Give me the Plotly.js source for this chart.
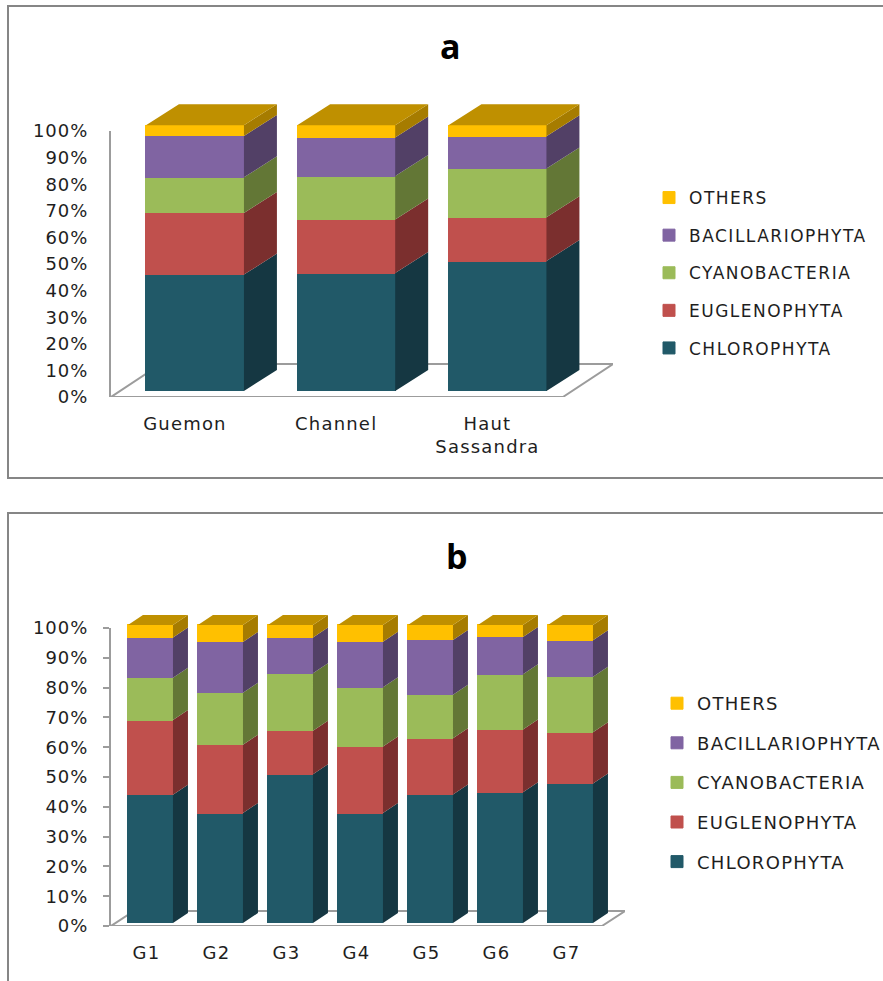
<!DOCTYPE html>
<html>
<head>
<meta charset="utf-8">
<script src="https://cdn.plot.ly/plotly-3.0.1.min.js"></script>
<style>
  html, body { margin: 0; padding: 0; background: #fff; overflow: hidden; }
  .legendtext { letter-spacing: 1.5px; }
  .legend2text { letter-spacing: 1.3px; }
  .xtick text, .x2tick text { letter-spacing: 1.2px; }
  .ytick text, .y3tick text { letter-spacing: 1px; }
</style>
</head>
<body>
<div id="chart" style="width:883px;height:981px"></div>
<script>
// Phytoplankton composition, percent of each phylum per site (a) and per group (b)
const seriesNames = ['CHLOROPHYTA', 'EUGLENOPHYTA', 'CYANOBACTERIA', 'BACILLARIOPHYTA', 'OTHERS'];

const sitesA = ['Guemon', 'Channel', 'Haut<br>Sassandra'];
const chlorophytaA = [43.8, 44.4, 48.9];
const euglenophytaA = [23.2, 20.1, 16.5];
const cyanobacteriaA = [13.4, 16.4, 18.3];
const bacillariophytaA = [15.6, 14.5, 12.2];
const othersA = [4.0, 4.6, 4.1];

const groupsB = ['G1', 'G2', 'G3', 'G4', 'G5', 'G6', 'G7'];
const chlorophytaB = [43.0, 36.9, 49.9, 36.9, 43.1, 43.9, 46.8];
const euglenophytaB = [25.1, 22.9, 14.6, 22.3, 18.9, 21.0, 17.2];
const cyanobacteriaB = [14.2, 17.5, 19.3, 19.9, 14.6, 18.6, 18.6];
const bacillariophytaB = [13.5, 17.0, 12.0, 15.3, 18.4, 12.5, 12.3];
const othersB = [4.2, 5.7, 4.2, 5.6, 5.0, 4.0, 5.1];

const pctTicks = [0, 10, 20, 30, 40, 50, 60, 70, 80, 90, 100];
const pctLabels = ['0%', '10%', '20%', '30%', '40%', '50%', '60%', '70%', '80%', '90%', '100%'];

const frontColors = ['#215968', '#C0504D', '#9BBB59', '#8064A2', '#FFC000'];
const sideColors = ['#153742', '#7B2F2E', '#637736', '#524066', '#A67C00'];
const topColor = '#BF9000';
const wallColor = '#9C9C9C';
const textColor = '#1E1E1E';
const fontFamily = '"DejaVu Sans", sans-serif';

const W = 883, H = 981;
const fx = px => px / W;
const fy = py => 1 - py / H;

const traces = [];

// One panel: a floor drawn behind the bars, front faces as stacked bars,
// side and top faces as filled polygons offset by the extrusion depth.
function addPanel(p) {
  traces.push({
    type: 'scatter', mode: 'lines', xaxis: p.xName, yaxis: p.wallName,
    x: [p.xRange[0], p.floor.frontRight, p.xRange[1], p.floor.backLeft, p.xRange[0]],
    y: [0, 0, p.floor.depth, p.floor.depth, 0],
    line: { color: wallColor, width: 2 }, cliponaxis: false,
    showlegend: false, hoverinfo: 'skip'
  });

  p.series.forEach((vals, s) => {
    traces.push({
      type: 'bar', name: seriesNames[s], x: p.cats.map((_, i) => i), y: vals,
      xaxis: p.xName, yaxis: p.barName, width: p.barWidth,
      marker: { color: frontColors[s], line: { color: frontColors[s], width: 1 } },
      legend: p.legendName, legendgroup: p.legendName + s,
      legendrank: seriesNames.length - s, showlegend: true
    });
  });

  const base = p.cats.map(() => 0);
  p.series.forEach((vals, s) => {
    const sx = [], sy = [];
    vals.forEach((v, i) => {
      const r = i + p.barWidth / 2, lo = base[i], hi = lo + v;
      sx.push(r, r + p.dx, r + p.dx, r, r, null);
      sy.push(lo, lo + p.dy, hi + p.dy, hi, lo, null);
      base[i] = hi;
    });
    traces.push({
      type: 'scatter', mode: 'lines', fill: 'toself', fillcolor: sideColors[s],
      x: sx, y: sy, xaxis: p.xName, yaxis: p.barName,
      line: { width: 0, color: sideColors[s] }, showlegend: false, hoverinfo: 'skip'
    });
  });

  const tx = [], ty = [];
  base.forEach((t, i) => {
    const l = i - p.barWidth / 2, r = i + p.barWidth / 2;
    tx.push(l, r, r + p.dx, l + p.dx, l, null);
    ty.push(t, t, t + p.dy, t + p.dy, t, null);
  });
  traces.push({
    type: 'scatter', mode: 'lines', fill: 'toself', fillcolor: topColor,
    x: tx, y: ty, xaxis: p.xName, yaxis: p.barName,
    line: { width: 0, color: topColor }, showlegend: false, hoverinfo: 'skip'
  });
}

addPanel({
  cats: sitesA, xName: 'x', wallName: 'y', barName: 'y2', legendName: 'legend',
  series: [chlorophytaA, euglenophytaA, cyanobacteriaA, bacillariophytaA, othersA],
  barWidth: 0.648, dx: 0.218, dy: 7.9,
  xRange: [-0.555, 2.764],
  floor: { frontRight: 2.433, backLeft: -0.225, depth: 12.4 }
});
addPanel({
  cats: groupsB, xName: 'x2', wallName: 'y3', barName: 'y4', legendName: 'legend2',
  series: [chlorophytaB, euglenophytaB, cyanobacteriaB, bacillariophytaB, othersB],
  barWidth: 0.643, dx: 0.214, dy: 3.36,
  xRange: [-0.564, 6.779],
  floor: { frontRight: 6.45, backLeft: -0.236, depth: 5.03 }
});

const tickFont = { family: fontFamily, size: 18, color: textColor };
const catFont = { family: fontFamily, size: 18, color: textColor };

const layout = {
  width: W, height: H,
  margin: { l: 0, r: 0, t: 0, b: 0, autoexpand: false },
  paper_bgcolor: '#fff', plot_bgcolor: 'rgba(0,0,0,0)',
  barmode: 'stack', bargap: 0,
  hovermode: false,

  xaxis: {
    domain: [fx(111), fx(613)], range: [-0.555, 2.764], anchor: 'y',
    tickmode: 'array', tickvals: sitesA.map((_, i) => i), ticktext: sitesA,
    ticks: '', showgrid: false, zeroline: false, showline: false,
    tickfont: catFont, ticklabelshift: -10, ticklabelstandoff: 14
  },
  yaxis: {
    domain: [fy(397), fy(131)], range: [0, 100], anchor: 'x',
    tickmode: 'array', tickvals: pctTicks, ticktext: pctLabels,
    ticks: '', showgrid: false, zeroline: false,
    showline: true, linecolor: wallColor, linewidth: 2,
    tickfont: tickFont, ticklabelstandoff: 17
  },
  yaxis2: {
    domain: [fy(391), fy(100)], range: [0, 109.5], anchor: 'x',
    visible: false, showgrid: false, zeroline: false
  },

  xaxis2: {
    domain: [fx(111), fx(625)], range: [-0.564, 6.779], anchor: 'y3',
    tickmode: 'array', tickvals: groupsB.map((_, i) => i), ticktext: groupsB,
    ticks: '', showgrid: false, zeroline: false, showline: false,
    tickfont: catFont, ticklabelshift: -4, ticklabelstandoff: 14
  },
  yaxis3: {
    domain: [fy(926), fy(628)], range: [0, 100], anchor: 'x2',
    tickmode: 'array', tickvals: pctTicks, ticktext: pctLabels,
    ticks: 'outside', ticklen: 6, tickwidth: 2, tickcolor: wallColor,
    showgrid: false, zeroline: false,
    showline: true, linecolor: wallColor, linewidth: 2,
    tickfont: tickFont, ticklabelstandoff: 11
  },
  yaxis4: {
    domain: [fy(923), fy(610)], range: [0, 105.03], anchor: 'x2',
    visible: false, showgrid: false, zeroline: false
  },

  legend: {
    x: fx(649), y: fy(180), xanchor: 'left', yanchor: 'top',
    bgcolor: 'rgba(0,0,0,0)',
    font: { family: fontFamily, size: 17, color: textColor },
    traceorder: 'grouped', tracegroupgap: 12.5
  },
  legend2: {
    x: fx(657), y: fy(685), xanchor: 'left', yanchor: 'top',
    bgcolor: 'rgba(0,0,0,0)',
    font: { family: fontFamily, size: 18, color: textColor },
    traceorder: 'grouped', tracegroupgap: 13.2
  },

  annotations: [
    { text: '<b>a</b>', xref: 'paper', yref: 'paper', x: fx(450), y: fy(46),
      xanchor: 'center', yanchor: 'middle', showarrow: false,
      font: { family: '"Open Sans", sans-serif', size: 34, color: '#000' } },
    { text: '<b>b</b>', xref: 'paper', yref: 'paper', x: fx(457), y: fy(556),
      xanchor: 'center', yanchor: 'middle', showarrow: false,
      font: { family: '"Open Sans", sans-serif', size: 34, color: '#000' } }
  ],

  // Chart-area frames; both run past the page edge on the open sides
  shapes: [
    { type: 'rect', xref: 'paper', yref: 'paper', layer: 'below',
      x0: fx(8), x1: fx(900), y0: fy(478), y1: fy(6),
      line: { color: '#868686', width: 2 }, fillcolor: 'rgba(0,0,0,0)' },
    { type: 'rect', xref: 'paper', yref: 'paper', layer: 'below',
      x0: fx(8), x1: fx(900), y0: fy(1000), y1: fy(513),
      line: { color: '#868686', width: 2 }, fillcolor: 'rgba(0,0,0,0)' }
  ]
};

Plotly.newPlot('chart', traces, layout, { displayModeBar: false, staticPlot: true });
</script>
</body>
</html>
